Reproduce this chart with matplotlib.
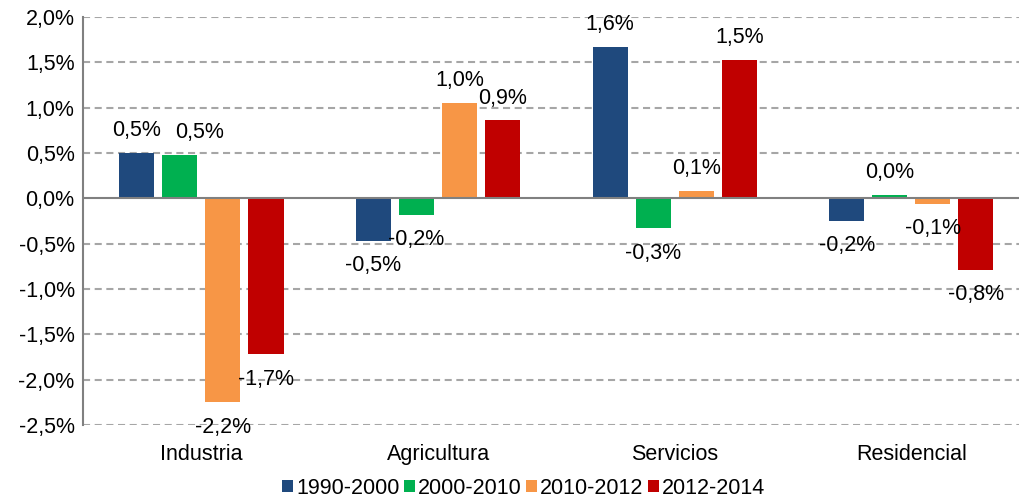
import matplotlib.pyplot as plt
import numpy as np
from matplotlib.patches import Patch

plt.rcParams['font.family'] = ['Liberation Sans', 'DejaVu Sans']

# Data
categories = ['Industria', 'Agricultura', 'Servicios', 'Residencial']
series = ['1990-2000', '2000-2010', '2010-2012', '2012-2014']
values = [
    [0.50, -0.47, 1.67, -0.25],    # 1990-2000
    [0.48, -0.18, -0.33, 0.04],    # 2000-2010
    [-2.25, 1.05, 0.08, -0.06],    # 2010-2012
    [-1.72, 0.86, 1.53, -0.79],    # 2012-2014
]
labels = [
    ['0,5%', '-0,5%', '1,6%', '-0,2%'],
    ['0,5%', '-0,2%', '-0,3%', '0,0%'],
    ['-2,2%', '1,0%', '0,1%', '-0,1%'],
    ['-1,7%', '0,9%', '1,5%', '-0,8%'],
]
colors = ['#1F497D', '#00B050', '#F79646', '#C00000']

FS = 15.5

fig = plt.figure(figsize=(10.19, 5.0), dpi=100)
# the plot area runs a little past the right edge of the image
ax = fig.add_axes([0.0815, 0.15, 0.929, 0.816])

x = np.arange(len(categories))
width = 0.148
step = 0.182

# labels nudged sideways to avoid a clash (series, category) -> points
nudge = {(1, 0): 14}

for i, (vals, labs, col) in enumerate(zip(values, labels, colors)):
    pos = x + (i - 1.5) * step
    ax.bar(pos, vals, width, color=col, zorder=3)
    for j, (px, v, lab) in enumerate(zip(pos, vals, labs)):
        off = 16 if v >= 0 else -18
        ax.annotate(lab, (px, v), xytext=(nudge.get((i, j), 0), off),
                    textcoords='offset points',
                    ha='center', va='center', fontsize=FS, zorder=4)

ax.set_xlim(-0.5, len(categories) - 0.5)
ax.set_ylim(-2.5, 2.0)
yt = np.arange(-2.5, 2.01, 0.5)
ax.set_yticks(yt)
ax.set_yticklabels([f'{t:.1f}%'.replace('.', ',') for t in yt], fontsize=FS)
ax.set_xticks(x)
ax.set_xticklabels(categories, fontsize=FS)
ax.tick_params(axis='both', length=0)
ax.tick_params(axis='x', pad=14)
ax.tick_params(axis='y', pad=6)

for t in yt:
    if abs(t) > 1e-9:
        ax.axhline(t, color='#A6A6A6', lw=1.5, dashes=(3.4, 2.2), zorder=1)
ax.axhline(0, color='#808080', lw=1.5, zorder=4)

for s in ['top', 'right', 'bottom']:
    ax.spines[s].set_visible(False)
ax.spines['left'].set_color('#808080')
ax.spines['left'].set_linewidth(1.5)

handles = [Patch(facecolor=c, label=s) for c, s in zip(colors, series)]
fig.legend(handles=handles, loc='center', bbox_to_anchor=(0.514, 0.024), ncol=4,
           frameon=False, fontsize=FS, handlelength=0.5, handleheight=0.5,
           handletextpad=0.15, columnspacing=0.2)

fig.savefig('out.png', dpi=100)
